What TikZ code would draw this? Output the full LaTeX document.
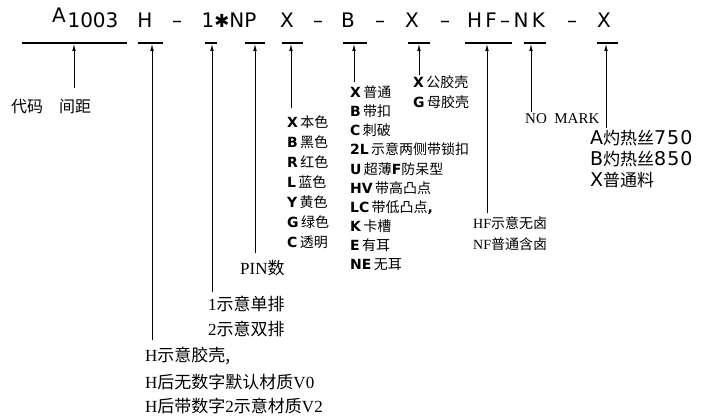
\documentclass[tikz,border=0pt]{standalone}
\usepackage{fontspec}
\setmainfont{Liberation Serif}
\setsansfont{DejaVu Sans}
\newfontfamily\cjk{Noto Sans CJK SC}
\newfontfamily\wide[LetterSpace=5]{DejaVu Sans}
\usetikzlibrary{arrows.meta}
\newcommand{\zh}[1]{{\cjk #1}}
\newcommand{\cd}[1]{{\sffamily\bfseries #1}}

\begin{document}
\begin{tikzpicture}[x=1pt,y=-1pt,
    bar/.style={line width=1.8pt},
    arr/.style={line width=0.8pt,-{Latex[length=7pt,width=3.6pt]}},
    code/.style={font=\sffamily\fontsize{20}{20}\selectfont,inner sep=0pt,anchor=base},
    lbl/.style={anchor=west,inner sep=0pt,font=\fontsize{16}{16}\selectfont},
    item/.style={anchor=west,inner sep=0pt,font=\fontsize{14}{14}\selectfont},
    big/.style={anchor=west,inner sep=0pt,font=\fontsize{17}{17}\selectfont}]
        \useasboundingbox (0,0) rectangle (709,420);

        % code row
        \node[code] (tA) at (59,23) {A};
        \node[code] (t1003) at (93,27.5) {1003};
        \node[code] (tH) at (145,27.5) {H};
        \node[code] (d1) at (177,27.5) {–};
        \node[code] (tNP) at (229,27.5) {1{\fontsize{18}{18}\selectfont ✱}NP};
        \node[code] (tX1) at (287,27.5) {X};
        \node[code] (d2) at (318,27.5) {–};
        \node[code] (tB) at (348,27.5) {B};
        \node[code] (d3) at (380,27.5) {–};
        \node[code] (tX2) at (412,27.5) {X};
        \node[code] (d4) at (445,27.5) {–};
        \node[code] (tHF) at (506,27.5) {H\,F\,–\,N\,K};
        \node[code] (d5) at (572,27.5) {–};
        \node[code] (tX3) at (604,27.5) {X};

        % bars and arrows
        \foreach \n/\l/\r/\a/\b in {1/22/127/74/88, 2/138/163/152/340, 3/205/217/212/292,
                4/245/265/255/253, 5/282/303/291/108, 6/343/367/354/82, 7/408/430/419/75,
                8/465/512/487/213, 9/524/546/531/112, 10/597/618/606/128} {
            \draw[bar] (\l,43) -- (\r,43);
            \coordinate (to\n) at (\a,44);
            \coordinate (from\n) at (\a,\b);
            \draw[arr] (from\n) -- (to\n);
        }

        % labels
        \node[lbl] (code) at (11,107) {\zh{代码\quad 间距}};
        \node[big] (h1) at (145,356) {H\zh{示意胶壳,}};
        \node[big] (h2) at (145,382) {H\zh{后无数字默认材质}V0};
        \node[big] (h3) at (145,406) {H\zh{后带数字}2\zh{示意材质}V2};
        \node[big] (r1) at (208,304) {1\zh{示意单排}};
        \node[big] (r2) at (208,329) {2\zh{示意双排}};
        \node[big] (pin) at (240,268) {PIN\zh{数}};

        \foreach \c/\t [count=\i] in {X/本色, B/黑色, R/红色, L/蓝色, Y/黄色, G/绿色, C/透明}
            \node[item] (col\i) at (287,102+20*\i) {\cd{\c}\,\zh{\t}};

        \foreach \c/\t [count=\i] in {X/普通, B/带扣, C/刺破, 2L/示意两侧带锁扣, U/超薄\cd{F}防呆型,
                HV/带高凸点, LC/{带低凸点\cd{,}}, K/卡槽, E/有耳, NE/无耳}
            \node[item] (opt\i) at (350,72.8+19.2*\i) {\cd{\c}\,\zh{\t}};

        \node[item] (sh1) at (413,82) {\cd{X}\,\zh{公胶壳}};
        \node[item] (sh2) at (413,102) {\cd{G}\,\zh{母胶壳}};

        \node[lbl,font=\fontsize{14}{14}\selectfont] (hf1) at (473,223) {HF\zh{示意无卤}};
        \node[lbl,font=\fontsize{14}{14}\selectfont] (hf2) at (473,244) {NF\zh{普通含卤}};

        \node[lbl,font=\fontsize{15}{15}\selectfont] (nm) at (525,119) {NO\ \ MARK};

        \node[big] (w1) at (590,138) {{\wide\fontsize{19}{19}\selectfont A}\zh{灼热丝}{\wide\fontsize{19}{19}\selectfont 750}};
        \node[big] (w2) at (590,159) {{\wide\fontsize{19}{19}\selectfont B}\zh{灼热丝}{\wide\fontsize{19}{19}\selectfont 850}};
        \node[big] (w3) at (590,180) {{\wide\fontsize{19}{19}\selectfont X}\zh{普通料}};
\end{tikzpicture}
\end{document}
